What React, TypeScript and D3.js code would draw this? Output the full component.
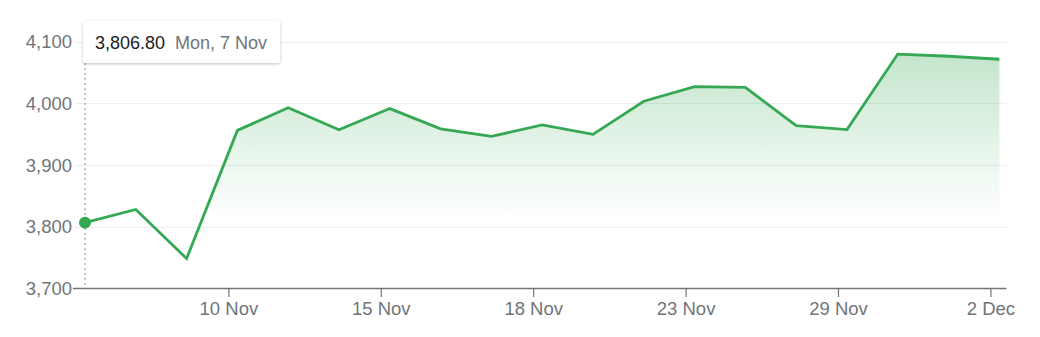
import React from "react";
import * as d3 from "d3";

const dates = ["7 Nov","8 Nov","9 Nov","10 Nov","11 Nov","14 Nov","15 Nov","16 Nov","17 Nov","18 Nov","21 Nov","22 Nov","23 Nov","25 Nov","28 Nov","29 Nov","30 Nov","1 Dec","2 Dec"];
const values = [3806.8,3828.11,3748.57,3956.37,3992.93,3957.25,3991.73,3958.79,3946.56,3965.34,3949.94,4003.58,4027.26,4026.12,3963.94,3957.63,4080.11,4076.57,4071.7];
const xTickLabels = ["10 Nov","15 Nov","18 Nov","23 Nov","29 Nov","2 Dec"];
const yTicks = [3700, 3800, 3900, 4000, 4100];
const tooltipValue = "3,806.80";
const tooltipDate = "Mon, 7 Nov";

const W = 1040, H = 337;
const FONT = "'Liberation Sans', Arial, sans-serif";
const GRAY = "#70757a";
const GREEN = "#34a853";

export default function App() {
  const x = d3.scaleLinear().domain([0, values.length - 1]).range([85, 999.4]);
  const y = d3.scaleLinear().domain([3700, 4100]).range([288.5, 41.8]);
  const tickOffset = 8.5;
  const axisLeft = 73, axisRight = 1006.5;

  const line = d3.line<number>().x((_, i) => x(i)).y(d => y(d));
  const area = d3.area<number>().x((_, i) => x(i)).y0(y(3700)).y1(d => y(d));
  const fmt = d3.format(",");

  const i0 = 0;
  return (
    <svg width={W} height={H} style={{ position: "absolute", left: 0, top: 0 }} fontFamily={FONT}>
      <defs>
        <linearGradient id="fillGrad" gradientUnits="userSpaceOnUse" x1="0" y1={y(4085)} x2="0" y2={y(3815)}>
          <stop offset="0" stopColor={GREEN} stopOpacity={0.3} />
          <stop offset="1" stopColor={GREEN} stopOpacity={0} />
        </linearGradient>
        <filter id="shadow" x="-10%" y="-30%" width="120%" height="170%">
          <feDropShadow dx="0" dy="1" stdDeviation="1.5" floodColor="#000" floodOpacity="0.25" />
        </filter>
      </defs>
      {yTicks.slice(1).map(t => (
        <line key={t} x1={75} x2={axisRight} y1={Math.round(y(t)) + 0.5} y2={Math.round(y(t)) + 0.5} stroke="#eeeeee" strokeWidth={1} />
      ))}
      {yTicks.map(t => (
        <text key={"yl" + t} x={72} y={y(t) + 6.5} textAnchor="end" fontSize={18.5} fill={GRAY}>{fmt(t)}</text>
      ))}
      <path d={area(values) || ""} fill="url(#fillGrad)" />
      <line x1={x(i0)} x2={x(i0)} y1={63} y2={288} stroke="#9aa0a6" strokeWidth={1.2} strokeDasharray="2,3" />
      <line x1={axisLeft} x2={axisRight} y1={288.5} y2={288.5} stroke={GRAY} strokeWidth={1.5} />
      {xTickLabels.map(lbl => {
        const idx = dates.indexOf(lbl);
        const tx = x(idx) - tickOffset;
        return (
          <g key={lbl}>
            <line x1={tx} x2={tx} y1={288.5} y2={297} stroke={GRAY} strokeWidth={1.2} />
            <text x={tx} y={315} textAnchor="middle" fontSize={18.5} fill={GRAY}>{lbl}</text>
          </g>
        );
      })}
      <path d={line(values) || ""} fill="none" stroke={GREEN} strokeWidth={2.8} strokeLinejoin="miter" />
      <circle cx={x(i0)} cy={y(values[i0])} r={6} fill={GREEN} />
      <g>
        <rect x={83} y={21} width={197} height={42} rx={3} fill="#fff" filter="url(#shadow)" />
        <text x={95} y={48.5} fontSize={18} fill="#202124">{tooltipValue}</text>
        <text x={175} y={48.5} fontSize={18} fill={GRAY}>{tooltipDate}</text>
      </g>
    </svg>
  );
}
